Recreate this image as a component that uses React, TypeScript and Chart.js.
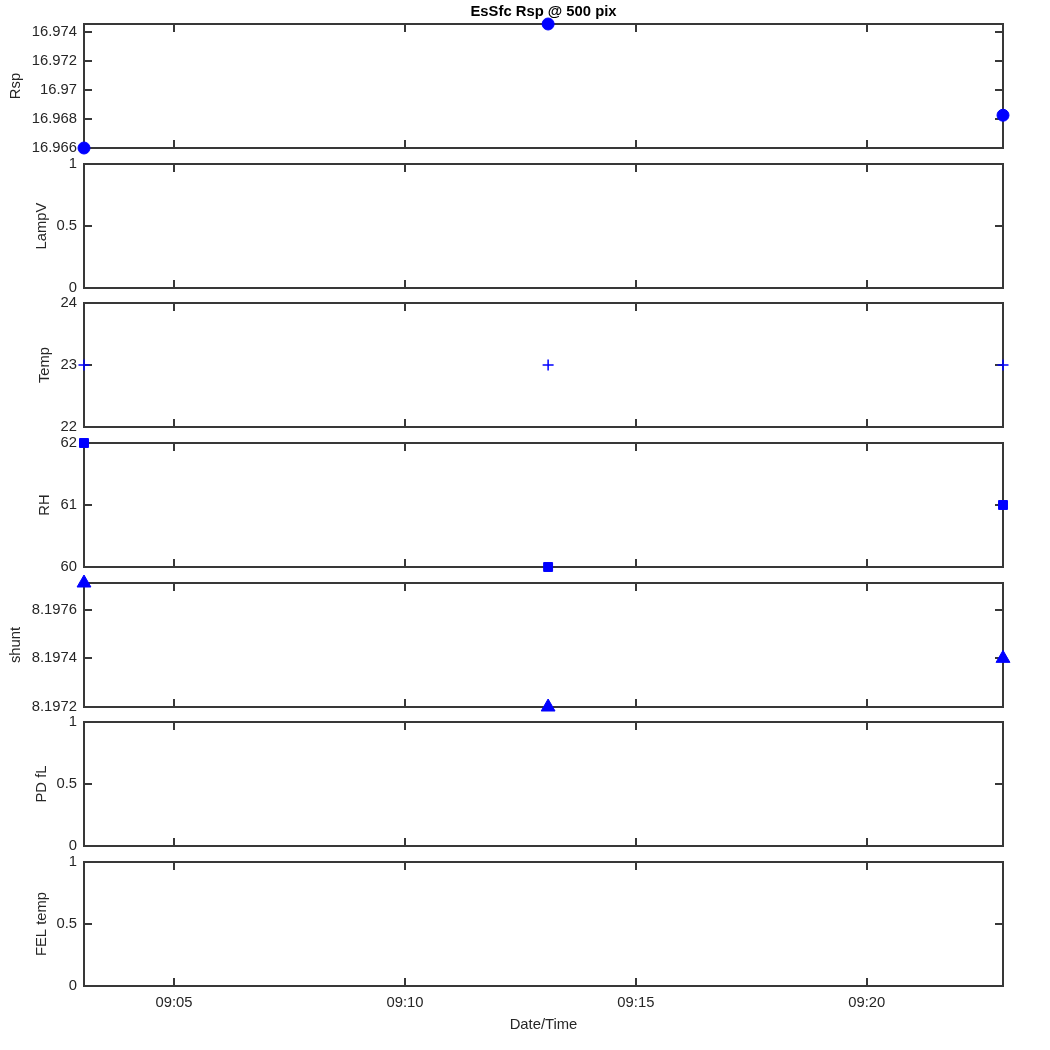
import React, { useEffect, useRef } from "react";
import { Chart, registerables } from "chart.js";

Chart.register(...registerables);

const hms = (h: number, m: number, s: number) => h * 3600 + m * 60 + s;

// ---- data ----
const times = [hms(9, 3, 3), hms(9, 13, 6), hms(9, 22, 57)];
const xTickValues = [hms(9, 5, 0), hms(9, 10, 0), hms(9, 15, 0), hms(9, 20, 0)];

const rspValues = [16.966, 16.97455, 16.96826];
const rspTicks = [16.966, 16.968, 16.97, 16.972, 16.974];

const lampVValues: number[] = [];
const unitTicks = [0, 0.5, 1];

const tempValues = [23, 23, 23];
const tempTicks = [22, 23, 24];

const rhValues = [62, 60, 61];
const rhTicks = [60, 61, 62];

const shuntValues = [8.19771, 8.1972, 8.1974];
const shuntTicks = [8.1972, 8.1974, 8.1976];

const pdValues: number[] = [];
const felValues: number[] = [];

const chartTitle = "EsSfc Rsp @ 500 pix";
const xTitle = "Date/Time";

// ---- styling / layout ----
const FONT = "'Liberation Sans', Arial, Helvetica, sans-serif";
const FS = 14.8;
const TXT = "#262626";
const AXIS = "#383838";
const BLUE = "#0000ff";
const PANEL_TOPS = [24, 164, 303, 443, 583, 722, 862];
const PANEL_H = 124;
const LEFT_AXIS = 84;
const RIGHT_PAD = 47;

type PanelCfg = {
  label: string;
  values: number[];
  min: number;
  max: number;
  ticks: number[];
  pointStyle: any;
  radius: number;
  border: number;
  titlePad: number;
};

const panels: PanelCfg[] = [
  { label: "Rsp", values: rspValues, min: 16.966, max: 16.97455, ticks: rspTicks, pointStyle: "circle", radius: 6, border: 1, titlePad: 7.5 },
  { label: "LampV", values: lampVValues, min: 0, max: 1, ticks: unitTicks, pointStyle: "circle", radius: 6, border: 1, titlePad: 33 },
  { label: "Temp", values: tempValues, min: 22, max: 24, ticks: tempTicks, pointStyle: "cross", radius: 5.5, border: 1.5, titlePad: 36 },
  { label: "RH", values: rhValues, min: 60, max: 62, ticks: rhTicks, pointStyle: "rect", radius: 6.3, border: 1, titlePad: 36 },
  { label: "shunt", values: shuntValues, min: 8.1972, max: 8.19771, ticks: shuntTicks, pointStyle: "triangle", radius: 8, border: 1, titlePad: 7.5 },
  { label: "PD fL", values: pdValues, min: 0, max: 1, ticks: unitTicks, pointStyle: "circle", radius: 6, border: 1, titlePad: 33 },
  { label: "FEL temp", values: felValues, min: 0, max: 1, ticks: unitTicks, pointStyle: "circle", radius: 6, border: 1, titlePad: 33 },
];

const fmtNum = (v: any) => String(parseFloat(Number(v).toFixed(6)));
const fmtTime = (v: any) => {
  const t = Math.round(Number(v));
  const h = Math.floor(t / 3600);
  const m = Math.floor((t % 3600) / 60);
  return String(h).padStart(2, "0") + ":" + String(m).padStart(2, "0");
};

function Panel({ cfg, index }: { cfg: PanelCfg; index: number }) {
  const ref = useRef<HTMLCanvasElement>(null);
  const isFirst = index === 0;
  const isLast = index === panels.length - 1;
  const top = PANEL_TOPS[index];
  const canvasTop = isFirst ? 0 : top - 20;
  const canvasBottom = isLast ? 1050 : top + PANEL_H + 20;
  const height = canvasBottom - canvasTop;

  useEffect(() => {
    if (!ref.current) return;
    const font = { family: FONT, size: FS, lineHeight: 1.2 };
    const frame = {
      id: "matlabFrame" + index,
      beforeDatasetsDraw(chart: any) {
        const { ctx, chartArea: a, scales } = chart;
        const L = 8;
        ctx.save();
        ctx.strokeStyle = AXIS;
        ctx.lineWidth = 2;
        ctx.lineCap = "butt";
        ctx.strokeRect(a.left, a.top, a.right - a.left, a.bottom - a.top);
        ctx.beginPath();
        for (const v of xTickValues) {
          const x = Math.round(scales.x.getPixelForValue(v));
          ctx.moveTo(x, a.top);
          ctx.lineTo(x, a.top + L);
          ctx.moveTo(x, a.bottom);
          ctx.lineTo(x, a.bottom - L);
        }
        for (const v of cfg.ticks) {
          const y = Math.round(scales.y.getPixelForValue(v));
          ctx.moveTo(a.left, y);
          ctx.lineTo(a.left + L, y);
          ctx.moveTo(a.right, y);
          ctx.lineTo(a.right - L, y);
        }
        ctx.stroke();
        ctx.restore();
      },
    };
    const chart = new Chart(ref.current, {
      type: "scatter",
      data: {
        datasets: [
          {
            data: cfg.values.map((y, i) => ({ x: times[i], y })),
            pointStyle: cfg.pointStyle,
            pointRadius: cfg.radius,
            pointHoverRadius: cfg.radius,
            backgroundColor: BLUE,
            borderColor: BLUE,
            borderWidth: cfg.border,
            showLine: false,
            clip: false as any,
          },
        ],
      },
      options: {
        animation: false,
        responsive: false,
        devicePixelRatio: 1,
        events: [],
        layout: {
          padding: { top: isFirst ? 0 : 20, bottom: isLast ? 0 : 20, left: 0, right: RIGHT_PAD },
        },
        plugins: {
          legend: { display: false },
          tooltip: { enabled: false },
          title: isFirst
            ? {
                display: true,
                fullSize: false,
                text: chartTitle,
                color: "#000000",
                font: { family: FONT, size: FS, weight: "bold", lineHeight: 1.2 },
                padding: { top: 3, bottom: 3.24 },
              }
            : { display: false },
        },
        scales: {
          x: {
            type: "linear",
            min: times[0],
            max: times[times.length - 1],
            display: isLast,
            afterBuildTicks: (s: any) => {
              s.ticks = xTickValues.map((v) => ({ value: v }));
            },
            afterFit: (s: any) => {
              if (isLast) s.height = 1050 - (PANEL_TOPS[index] + PANEL_H);
            },
            ticks: { callback: fmtTime, padding: 8, font, color: TXT, maxRotation: 0, autoSkip: false },
            grid: { display: false, drawTicks: false },
            border: { display: false },
            title: { display: true, text: xTitle, font, color: TXT, padding: { top: 0, bottom: 16 } },
          },
          y: {
            type: "linear",
            min: cfg.min,
            max: cfg.max,
            afterBuildTicks: (s: any) => {
              s.ticks = cfg.ticks.map((v) => ({ value: v }));
            },
            afterFit: (s: any) => {
              s.width = LEFT_AXIS;
            },
            ticks: { callback: fmtNum, padding: 7, font, color: TXT, autoSkip: false },
            grid: { display: false, drawTicks: false },
            border: { display: false },
            title: { display: true, text: cfg.label, font, color: TXT, padding: { top: cfg.titlePad, bottom: 0 } },
          },
        },
      } as any,
      plugins: [frame],
    });
    return () => chart.destroy();
  }, []);

  return (
    <canvas
      ref={ref}
      width={1050}
      height={height}
      style={{ position: "absolute", left: 0, top: canvasTop, width: 1050, height }}
    />
  );
}

export default function App() {
  return (
    <div style={{ position: "absolute", left: 0, top: 0, width: 1050, height: 1050, background: "#ffffff" }}>
      {panels.map((p, i) => (
        <Panel key={p.label} cfg={p} index={i} />
      ))}
    </div>
  );
}
